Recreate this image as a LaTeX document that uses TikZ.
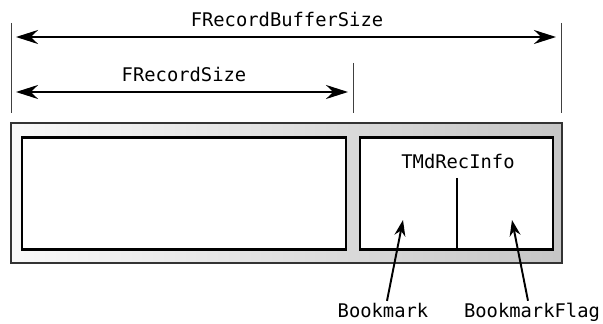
\documentclass[tikz,border=0pt]{standalone}
\usepackage{fontspec}
\setmonofont{DejaVu Sans Mono}
\usetikzlibrary{arrows.meta, positioning}

\begin{document}
\begin{tikzpicture}[x=0.02cm, y=-0.02cm,
    container/.style={rectangle, draw=black!80, line width=1.1pt, left color=gray!5, right color=gray!45, inner sep=0pt, outer sep=0pt},
    field/.style={rectangle, draw=black, line width=1.4pt, fill=white, inner sep=0pt, outer sep=0pt},
    dimarrow/.style={{Stealth[length=4.4mm, width=2.8mm]}-{Stealth[length=4.4mm, width=2.8mm]}, line width=1.1pt, shorten <=0.1cm, shorten >=0.1cm},
    pointer/.style={-{Stealth[length=3.2mm, width=2.2mm]}, line width=1.1pt},
    extline/.style={draw=black!75, line width=0.5pt},
    codelabel/.style={font=\ttfamily\fontsize{10.7}{12}\selectfont, inner sep=0pt},
]

\useasboundingbox (0,0) rectangle (603,324);

% Extension lines
\coordinate (ext_l) at (11,23);
\coordinate (ext_m) at (353,63);
\coordinate (ext_r) at (561,23);
\draw[extline] (ext_l) -- ++(0,90);
\draw[extline] (ext_m) -- ++(0,50);
\draw[extline] (ext_r) -- ++(0,90);

% Dimension arrows
\node[codelabel] (bufsize) at (287,19) {FRecordBufferSize};
\draw[dimarrow] (ext_l |- 0,37) -- (ext_r |- 0,37);

\node[codelabel] (recsize) at (184,74) {FRecordSize};
\draw[dimarrow] (ext_l |- 0,92) -- (ext_m |- 0,92);

% Record buffer
\node[container, minimum width=11.02cm, minimum height=2.8cm] (buf_box) at (286.5,193) {};
\node[field, minimum width=6.48cm, minimum height=2.24cm] (data) at (184,193.5) {};
\node[field, minimum width=3.86cm, minimum height=2.24cm] (info) at (456.5,193.5) {};
\node[codelabel] (info_lbl) at (458,161) {TMdRecInfo};
\coordinate (div_top) at (457,178);
\draw[line width=1.4pt] (div_top) -- (div_top |- info.south);

% Pointers
\node[codelabel, anchor=base] (bm) at (383,318) {Bookmark};
\node[codelabel, anchor=base] (bmflag) at (532,318) {BookmarkFlag};
\coordinate (bm_tip) at (403,220);
\coordinate (bmflag_tip) at (512,220);
\draw[pointer] ([xshift=0.08cm, yshift=0.05cm]bm.north) -- (bm_tip);
\draw[pointer] ([xshift=-0.08cm, yshift=0.05cm]bmflag.north) -- (bmflag_tip);

\end{tikzpicture}
\end{document}
